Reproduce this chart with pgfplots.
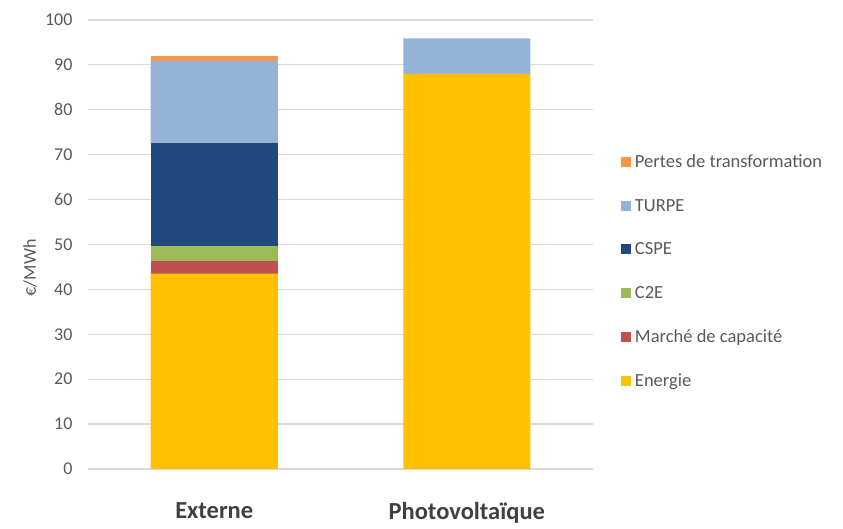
\documentclass[border=0pt]{standalone}
\usepackage{fontspec}
\setmainfont{Carlito}
\usepackage{pgfplots}
\pgfplotsset{compat=1.18}
\definecolor{cEnergie}{RGB}{255,192,0}
\definecolor{cCap}{RGB}{192,80,77}
\definecolor{cC2E}{RGB}{155,187,89}
\definecolor{cCSPE}{RGB}{31,73,125}
\definecolor{cTURPE}{RGB}{149,179,215}
\definecolor{cPertes}{RGB}{247,150,70}
\definecolor{tickgray}{RGB}{89,89,89}
\definecolor{catgray}{RGB}{64,64,64}
\definecolor{gridgray}{RGB}{217,217,217}
\begin{document}
\begin{tikzpicture}
\begin{axis}[
  at={(0,0)}, anchor=south west,
  scale only axis, width=505pt, height=449pt,
  ybar stacked, bar width=127pt,
  xmin=-0.5, xmax=1.5, ymin=0, ymax=100,
  ytick={0,10,...,100},
  xtick={0,1}, xticklabels={Externe, Photovoltaïque},
  axis line style={draw=none},
  tick style={draw=none},
  ymajorgrids, grid style={gridgray, line width=1.2pt},
  /pgf/number format/assume math mode=true,
  y tick label style={font=\fontsize{18}{21}\selectfont, text=tickgray, xshift=-12pt},
  x tick label style={font=\bfseries\fontsize{24.5}{28}\selectfont, text=catgray, yshift=-30pt},
  ylabel={€/MWh},
  every axis y label/.style={at={(axis description cs:-0.115,0.448)}, rotate=90, anchor=center,
    font=\fontsize{18}{21}\selectfont, text=tickgray},
  legend style={at={(rel axis cs:1.055,0.44)}, anchor=west, draw=none, fill=none,
    font=\fontsize{18.5}{22}\selectfont, text=tickgray, row sep=26pt, inner sep=0pt,
    nodes={inner xsep=4pt}},
  legend cell align=left,
  reverse legend,
  legend image code/.code={\fill[#1] (0pt,-5pt) rectangle (10pt,5pt);},
]
\addplot[fill=cEnergie, draw=none] coordinates {(0,43.5) (1,88.0)};
\addplot[fill=cCap, draw=none] coordinates {(0,2.8) (1,0)};
\addplot[fill=cC2E, draw=none] coordinates {(0,3.4) (1,0)};
\addplot[fill=cCSPE, draw=none] coordinates {(0,22.9) (1,0)};
\addplot[fill=cTURPE, draw=none] coordinates {(0,18.3) (1,7.9)};
\addplot[fill=cPertes, draw=none] coordinates {(0,1.1) (1,0)};
\legend{Energie, Marché de capacité, C2E, CSPE, TURPE, Pertes de transformation}
\end{axis}
\path[use as bounding box] (-88pt,-60pt) rectangle (755pt,469pt);
\end{tikzpicture}
\end{document}
